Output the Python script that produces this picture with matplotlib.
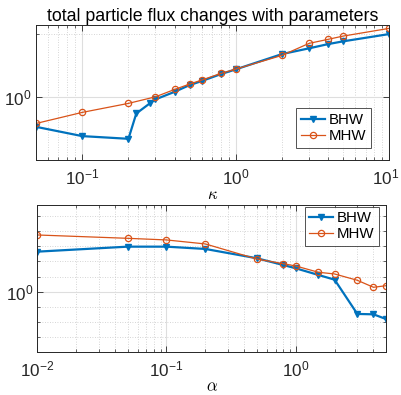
import numpy as np
import matplotlib
matplotlib.use("Agg")
import matplotlib.pyplot as plt
from matplotlib.transforms import ScaledTranslation
from matplotlib.ticker import LogLocator, FixedLocator, NullFormatter, LogFormatterSciNotation

plt.rcParams['font.family'] = ['Liberation Sans', 'DejaVu Sans']
plt.rcParams['mathtext.fontset'] = 'custom'
plt.rcParams['mathtext.rm'] = 'Liberation Sans'
plt.rcParams['mathtext.it'] = 'Liberation Sans:italic'

# particle flux vs kappa
kappa_bhw = [0.05, 0.1, 0.2, 0.225, 0.275, 0.3, 0.4, 0.5, 0.6, 0.8, 1, 2, 3, 4, 5, 10]
flux_kappa_bhw = [0.718, 0.648, 0.629, 0.832, 0.929, 0.972, 1.057, 1.138, 1.19,
                  1.285, 1.354, 1.603, 1.708, 1.79, 1.845, 2.0]
kappa_mhw = [0.05, 0.1, 0.2, 0.3, 0.4, 0.5, 0.6, 0.8, 1, 2, 3, 4, 5, 10]
flux_kappa_mhw = [0.745, 0.842, 0.93, 1.0, 1.085, 1.151, 1.203, 1.295, 1.358,
                  1.58, 1.804, 1.887, 1.955, 2.13]

# particle flux vs alpha
alpha = [0.01, 0.05, 0.1, 0.2, 0.5, 0.8, 1, 1.5, 2, 3, 4, 5]
flux_alpha_bhw = [1.837, 1.982, 1.982, 1.914, 1.662, 1.5, 1.427, 1.289, 1.2, 0.713, 0.709, 0.66]
flux_alpha_mhw = [2.367, 2.25, 2.195, 2.065, 1.643, 1.53, 1.478, 1.343, 1.309, 1.189, 1.069, 1.095]

BLUE = '#0072BD'
ORANGE = '#D95319'
AX = '#262626'

W, H = 401, 395
fig = plt.figure(figsize=(W / 100, H / 100), dpi=100)


def rect(x0, y0, x1, y1):
    return [x0 / W, 1 - y1 / H, (x1 - x0) / W, (y1 - y0) / H]


ax1 = fig.add_axes(rect(36.0, 25.0, 389.3, 160.5))
ax2 = fig.add_axes(rect(37.3, 205.0, 386.0, 352.3))


def style(ax, yminor):
    ax.set_xscale('log')
    ax.set_yscale('log')
    ax.yaxis.set_major_locator(FixedLocator([1.0]))
    ax.yaxis.set_major_formatter(LogFormatterSciNotation())
    ax.yaxis.set_minor_locator(FixedLocator(yminor))
    ax.yaxis.set_minor_formatter(NullFormatter())
    ax.xaxis.set_major_locator(LogLocator(base=10))
    ax.xaxis.set_minor_locator(LogLocator(base=10, subs=np.arange(2, 10)))
    ax.xaxis.set_minor_formatter(NullFormatter())
    ax.grid(True, which='major', color='#dedede', linewidth=0.8, linestyle='-')
    ax.grid(True, which='minor', color='#c8c8c8', linewidth=0.6, linestyle=(0, (1, 2)))
    ax.set_axisbelow(True)
    ax.tick_params(which='both', direction='in', top=True, right=True, colors=AX,
                   labelsize=12.3, labelcolor=AX)
    ax.tick_params(which='major', length=4, width=0.6)
    ax.tick_params(which='minor', length=2.5, width=0.5)
    ax.tick_params(axis='x', pad=5)
    ax.tick_params(axis='y', pad=3)
    for s in ax.spines.values():
        s.set_color(AX)
        s.set_linewidth(0.7)


def add_legend(ax, loc, anchor):
    leg = ax.legend(loc=loc, bbox_to_anchor=(anchor[0] / W, 1 - anchor[1] / H),
                    bbox_transform=fig.transFigure, fontsize=10.8, frameon=True,
                    fancybox=False, edgecolor=AX, borderpad=0.3, handlelength=1.6,
                    handletextpad=0.25, labelspacing=0.15, borderaxespad=0.0)
    leg.get_frame().set_linewidth(0.7)
    return leg


style(ax1, [0.5, 2.0])
ax1.plot(kappa_bhw, flux_kappa_bhw, color=BLUE, lw=1.6, marker='v', ms=5,
         mfc=BLUE, mec=BLUE, label='BHW')
ax1.plot(kappa_mhw, flux_kappa_mhw, color=ORANGE, lw=0.9, marker='o', ms=4.5,
         mfc='none', mec=ORANGE, mew=0.9, label='MHW')
ax1.set_xlim(0.05, 10)
ax1.set_ylim(0.495, 2.21)
ax1.set_title('total particle flux changes with parameters', fontsize=12.8,
              color='black', pad=3)
ax1.set_xlabel(r'$\kappa$', fontsize=12, math_fontfamily='cm', labelpad=0)
add_legend(ax1, 'lower right', (370.7, 147.7))

style(ax2, [10 ** (0.1 * k) for k in range(-4, 6) if k != 0])
ax2.plot(alpha, flux_alpha_bhw, color=BLUE, lw=1.6, marker='v', ms=5,
         mfc=BLUE, mec=BLUE, label='BHW')
ax2.plot(alpha, flux_alpha_mhw, color=ORANGE, lw=0.9, marker='o', ms=4.5,
         mfc='none', mec=ORANGE, mew=0.9, label='MHW')
ax2.set_xlim(0.01, 5)
ax2.set_ylim(10 ** -0.4, 10 ** 0.572)
ax2.set_xlabel(r'$\alpha$', fontsize=12, math_fontfamily='cm', labelpad=0)
add_legend(ax2, 'upper right', (379.0, 206.7))

# keep the rightmost kappa tick label inside the figure
fig.canvas.draw()
for tick in ax1.xaxis.get_major_ticks():
    if np.isclose(tick.get_loc(), 10.0):
        lbl = tick.label1
        lbl.set_transform(lbl.get_transform()
                          + ScaledTranslation(-4 / 100, 0, fig.dpi_scale_trans))

fig.savefig('out.png', dpi=100)
